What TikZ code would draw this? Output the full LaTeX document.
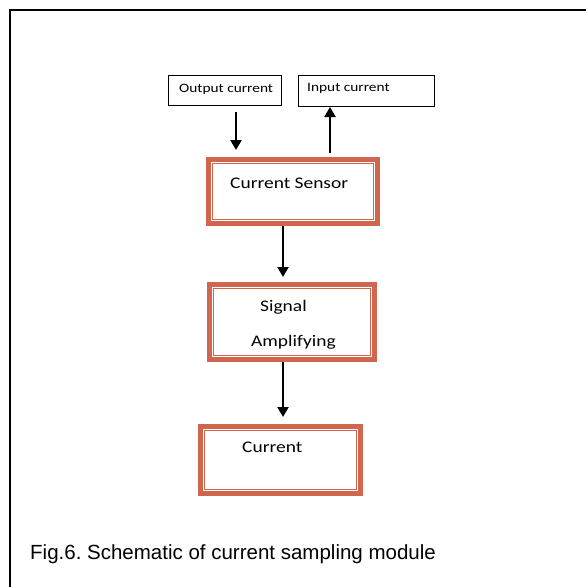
\documentclass[tikz,border=0pt]{standalone}
\usepackage{fontspec}
\setmainfont{Liberation Sans}
\newfontfamily\boxfont[FakeStretch=1.2]{Carlito}
\usetikzlibrary{arrows.meta}
\definecolor{frameorange}{RGB}{208,102,78}
\frenchspacing
\tikzset{
  flowbox/.style={draw=frameorange, line width=7pt, fill=white, rectangle, outer sep=0pt, inner sep=0pt},
  innerrule/.style={draw=white, line width=1pt},
  tagbox/.style={draw=black, line width=0.8pt, rectangle, outer sep=0pt, inner sep=0pt},
  boxtext/.style={anchor=base west, inner sep=0pt, font=\boxfont\fontsize{16.2}{19}\selectfont},
  tagtext/.style={anchor=base west, inner sep=0pt, font=\boxfont\fontsize{12.8}{15}\selectfont},
  flowarrow/.style={draw=black, line width=2.2pt, -{Triangle[length=10pt,width=11pt]}},
}
\begin{document}
\begin{tikzpicture}[x=1pt,y=-1pt]
\useasboundingbox (0,0) rectangle (586,587);
% outer frame (top and left edges)
\draw[line width=1.6pt] (586,10) -- (10,10) -- (10,587);

% source / sink tags
\node[tagbox, minimum width=113pt, minimum height=30pt] (outbox) at (225,90) {};
\node[tagbox, minimum width=136pt, minimum height=31pt] (inbox) at (366.5,90.5) {};
\node[tagtext] (outtxt) at (179,92) {Output current};
\node[tagtext] (intxt) at (307,91) {Input current};

% processing blocks
\node[flowbox, minimum width=167pt, minimum height=62pt] (sensor) at (293,191.5) {};
\node[flowbox, minimum width=163pt, minimum height=73pt] (amp) at (292,322) {};
\node[flowbox, minimum width=158pt, minimum height=65pt] (cur) at (280.5,460) {};
\foreach \n in {sensor,amp,cur}{
  \draw[innerrule] ([shift={(2,-2)}]\n.south west) rectangle ([shift={(-2,2)}]\n.north east);
}
\node[boxtext] (sensortxt) at (230,188) {Current Sensor};
\node[boxtext] (sigtxt) at (260,311) {Signal};
\node[boxtext] (amptxt) at (251,346) {Amplifying};
\node[boxtext] (curtxt) at (242,452) {Current};

% connectors
\coordinate (outtop) at (236,112);
\coordinate (outtip) at (236,150);
\coordinate (intail) at (330,153);
\coordinate (intip) at (330,107);
\draw[flowarrow] (outtop) -- (outtip);
\draw[flowarrow] (intail) -- (intip);
\draw[flowarrow] (sensor.south -| 283,0) ++(0,3.5) -- (283,277);
\draw[flowarrow] (amp.south -| 283,0) ++(0,3.5) -- (283,417);

% caption
\node[anchor=base west, inner sep=0pt, font=\fontsize{20.5}{24}\selectfont] (caption) at (30,559)
  {Fig.6. Schematic of current sampling module};
\end{tikzpicture}
\end{document}
